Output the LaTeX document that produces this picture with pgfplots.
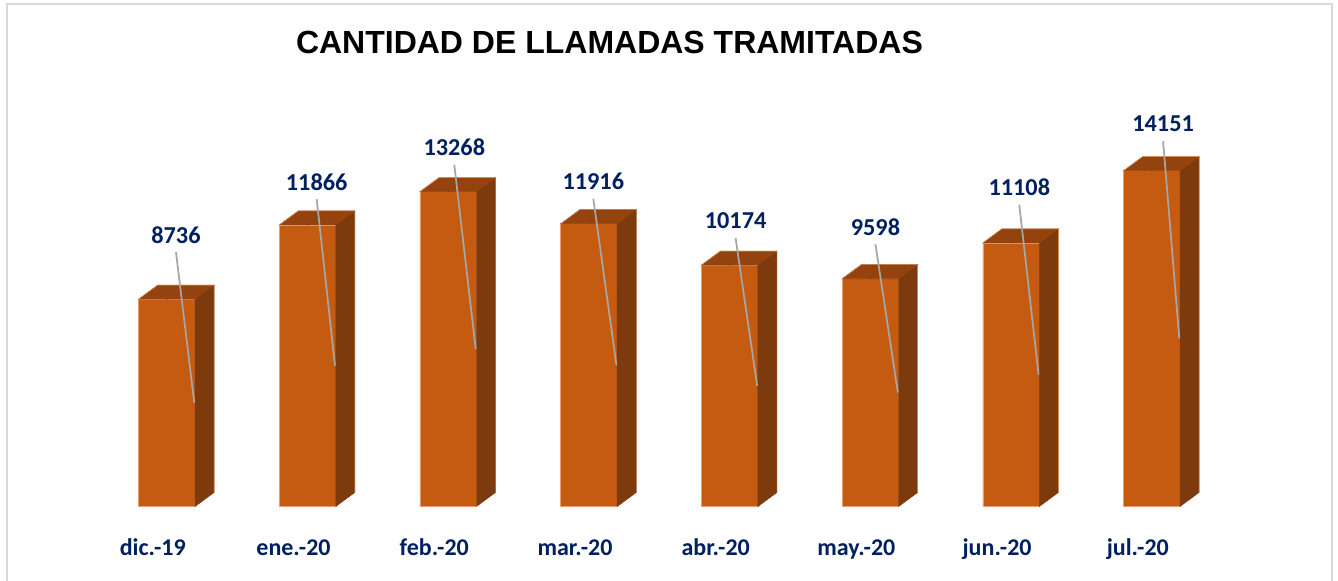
\documentclass[border=0pt]{standalone}
\usepackage{fontspec}
\setmainfont{Carlito}
\newfontfamily\titlefont{Liberation Sans}
\usepackage{pgfplots}
\usepackage{pgfplotstable}
\pgfplotsset{compat=1.18}
\definecolor{frontc}{HTML}{C55A11}
\definecolor{sidec}{HTML}{7D3A0C}
\definecolor{topc}{HTML}{94420E}
\definecolor{edgec}{HTML}{E9A06E}
\definecolor{navy}{HTML}{002060}
\definecolor{leader}{HTML}{A6A6A6}
\definecolor{frame}{HTML}{D9D9D9}

\pgfplotstableread{
x val lx ly m
0 8736 0.065 11441 0/8736/0.065/11441
1 11866 1.065 13675 1/11866/1.065/13675
2 13268 2.043 15120 2/13268/2.043/15120
3 11916 3.031 13687 3/11916/3.031/13687
4 10174 4.042 12031 4/10174/4.042/12031
5 9598 5.036 11766 5/9598/5.036/11766
6 11108 6.058 13434 6/11108/6.058/13434
7 14151 7.080 16119 7/14151/7.080/16119
}\data

\def\parsemeta#1/#2/#3/#4\relax{\def\bx{#1}\def\bv{#2}\def\blx{#3}\def\bly{#4}}

\begin{document}
\begin{tikzpicture}
\path[use as bounding box, fill=white] (0,0) rectangle (1003.5pt,435.75pt);
\draw[frame, line width=1.5pt] (5.25pt,-2pt) -- (5.25pt,432.75pt) -- (999pt,432.75pt) -- (999pt,-2pt);
\node[font=\titlefont\bfseries\fontsize{24}{28}\selectfont, anchor=center] at (457.1pt,403.9pt) {CANTIDAD DE LLAMADAS TRAMITADAS};
\begin{axis}[
  at={(72.34pt,55.875pt)}, anchor=south west,
  scale only axis, width=844.3pt, height=302.5575pt,
  xmin=-0.5, xmax=7.5, ymin=0, ymax=17000,
  axis line style={draw=none}, tick style={draw=none}, clip=false,
  xtick={0,...,7},
  xticklabels={dic.-19,ene.-20,feb.-20,mar.-20,abr.-20,may.-20,jun.-20,jul.-20},
  xticklabel style={anchor=base, xshift=-10.5pt, yshift=-37.1pt, font=\bfseries\fontsize{18}{20}\selectfont, text=navy, inner sep=0pt},
  ytick=\empty,
]
\addplot[ybar, bar width=42.4pt, fill=frontc, draw=edgec, line width=0.4pt] table[x=x, y=val] {\data};
\addplot[scatter, only marks, mark=*, mark size=0.01pt, mark options={draw=none, fill=none},
  point meta=explicit symbolic,
  scatter/@pre marker code/.code={%
    \expandafter\parsemeta\pgfplotspointmeta\relax
    \pgfmathsetlengthmacro\bh{\bv*0.0177975}%
    \pgfmathsetlengthmacro\bhh{0.5*\bv*0.0177975}%
    \pgfmathsetlengthmacro\bLx{(\blx-\bx)*105.5375}%
    \pgfmathsetlengthmacro\bLy{(\bly-\bv)*0.0177975-12.75}%
    \fill[sidec] (21.2pt,0pt) -- (35.45pt,10.5pt) -- (35.45pt,{10.5pt-\bh}) -- (21.2pt,-\bh) -- cycle;
    \fill[topc] (-21.2pt,0pt) -- (-6.95pt,10.5pt) -- (35.45pt,10.5pt) -- (21.2pt,0pt) -- cycle;
    \draw[edgec, line width=0.3pt] (-21.2pt,0pt) -- (-6.95pt,10.5pt) -- (35.45pt,10.5pt) -- (35.45pt,{10.5pt-\bh});
    \draw[leader, line width=1.3pt] (\bLx,\bLy) -- (20.6pt,-\bhh);
  },
  scatter/@post marker code/.code={},
] table[x=x, y=val, meta=m] {\data};
\addplot[draw=none, mark=none, nodes near coords, point meta=explicit symbolic,
  every node near coord/.style={anchor=center, font=\bfseries\fontsize{18.2}{20}\selectfont, text=navy, inner sep=0pt}]
  table[x=lx, y=ly, meta=val] {\data};
\end{axis}
\end{tikzpicture}
\end{document}
